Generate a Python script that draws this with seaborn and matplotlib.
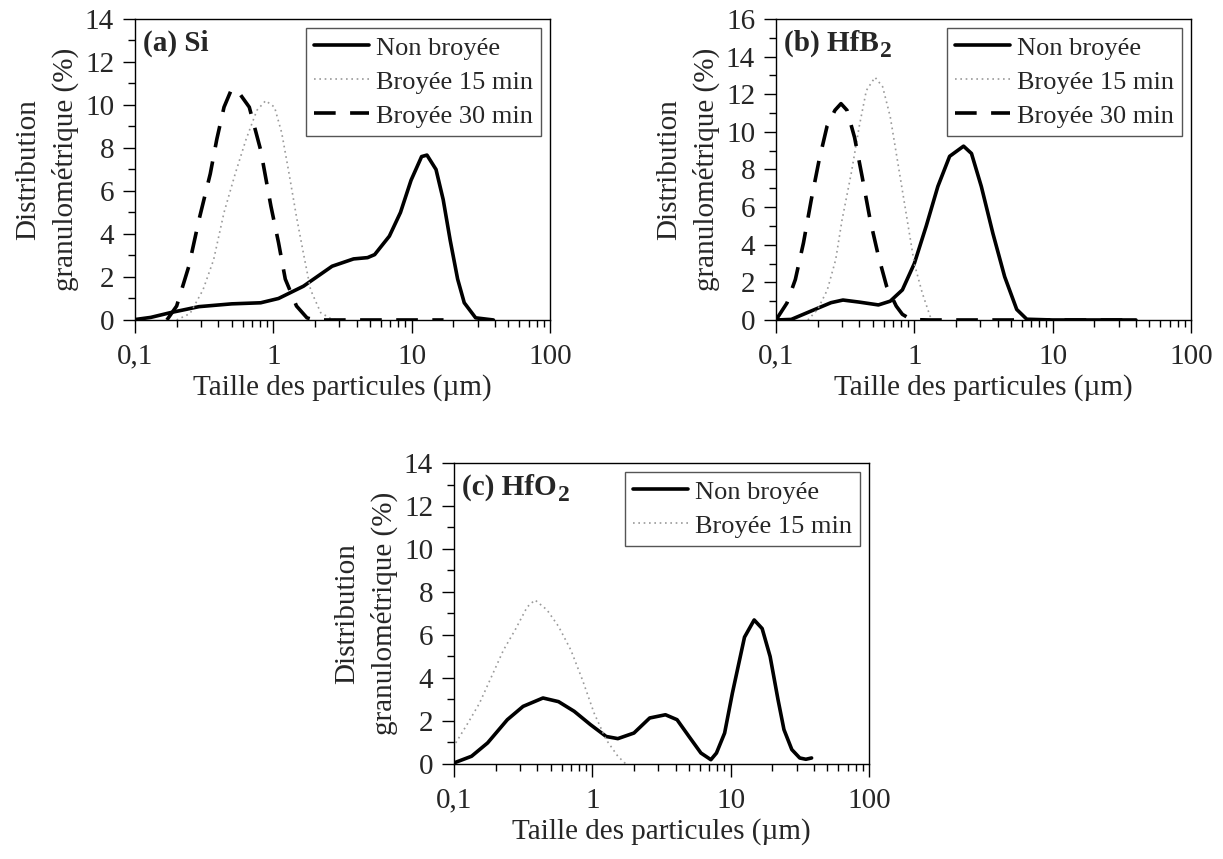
import numpy as np
import pandas as pd
import matplotlib
matplotlib.use("Agg")
import matplotlib.pyplot as plt
import matplotlib.ticker as mticker
import seaborn as sns

# (a) Si
si_x_raw = [0.1, 0.13, 0.18, 0.29, 0.5, 0.81, 1.09, 1.65, 2.66, 3.8, 4.8, 5.4, 6.9, 8.3,
            9.9, 11.8, 12.9, 15, 16.9, 19, 21.5, 24, 29, 39]
si_y_raw = [0.02, 0.12, 0.34, 0.62, 0.75, 0.8, 1.0, 1.57, 2.5, 2.84, 2.9, 3.04, 3.9, 5.0,
            6.5, 7.6, 7.67, 7.0, 5.6, 3.7, 1.9, 0.8, 0.1, 0.0]
si_x_15 = [0.2, 0.25, 0.31, 0.37, 0.44, 0.53, 0.635, 0.76, 0.88, 1.02, 1.15, 1.3, 1.47,
           1.65, 1.86, 2.2, 2.66, 3.0]
si_y_15 = [0.0, 0.3, 1.4, 2.8, 5.0, 6.8, 8.4, 9.75, 10.2, 9.9, 8.7, 6.8, 4.8, 3.1, 1.4,
           0.34, 0.03, 0.0]
si_x_30 = [0.17, 0.2, 0.245, 0.29, 0.35, 0.39, 0.44, 0.5, 0.56, 0.67, 0.81, 0.96, 1.09,
           1.22, 1.47, 1.75, 1.97, 3, 5, 8, 12, 17]
si_y_30 = [0.0, 0.65, 2.5, 4.66, 6.8, 8.4, 9.9, 10.75, 10.6, 9.9, 7.9, 5.3, 3.6, 1.9,
           0.65, 0.1, 0.0, 0, 0, 0, 0, 0]

# (b) HfB2
hfb_x_raw = [0.1, 0.129, 0.18, 0.25, 0.305, 0.4, 0.55, 0.67, 0.82, 1.0, 1.22, 1.48, 1.8,
             2.27, 2.59, 3.05, 3.7, 4.5, 5.5, 6.5, 10, 20, 40]
hfb_y_raw = [0.0, 0.03, 0.48, 0.92, 1.06, 0.95, 0.8, 1.0, 1.6, 3.0, 5.0, 7.1, 8.7, 9.24,
             8.85, 7.1, 4.6, 2.3, 0.56, 0.04, 0, 0, 0]
hfb_x_15 = [0.17, 0.2, 0.235, 0.27, 0.3, 0.35, 0.4, 0.45, 0.52, 0.59, 0.67, 0.77, 0.88,
            1.0, 1.14, 1.3, 1.37]
hfb_y_15 = [0.0, 0.56, 1.6, 3.2, 5.3, 7.8, 10.3, 12.2, 12.9, 12.4, 10.8, 8.1, 5.5, 3.0,
            1.45, 0.2, 0.0]
hfb_x_30 = [0.1, 0.12, 0.138, 0.158, 0.18, 0.205, 0.234, 0.267, 0.295, 0.326, 0.37, 0.42,
            0.48, 0.55, 0.63, 0.74, 0.82, 0.95, 1.3, 3, 10, 40]
hfb_y_30 = [0.0, 0.9, 2.15, 4.1, 6.4, 8.5, 10.3, 11.15, 11.5, 11.15, 9.7, 7.6, 5.3, 3.4,
            1.8, 0.74, 0.3, 0.02, 0, 0, 0, 0]

# (c) HfO2
hfo_x_raw = [0.1, 0.134, 0.175, 0.243, 0.316, 0.44, 0.57, 0.74, 0.97, 1.26, 1.53, 2.0,
             2.6, 3.38, 4.1, 5.0, 6.1, 7.2, 7.9, 9.05, 10.3, 12.6, 14.8, 16.9, 19.3, 22,
             24.3, 27.7, 31.6, 35, 38.5]
hfo_y_raw = [0.05, 0.36, 0.98, 2.06, 2.68, 3.07, 2.9, 2.45, 1.83, 1.28, 1.18, 1.44, 2.14,
             2.29, 2.06, 1.28, 0.51, 0.2, 0.51, 1.44, 3.3, 5.9, 6.7, 6.3, 5.0, 3.0, 1.6,
             0.67, 0.28, 0.22, 0.28]
hfo_x_15 = [0.103, 0.126, 0.153, 0.187, 0.228, 0.277, 0.338, 0.385, 0.47, 0.57, 0.7,
            0.85, 1.03, 1.26, 1.53, 1.75]
hfo_y_15 = [0.98, 1.9, 2.83, 4.07, 5.3, 6.24, 7.3, 7.63, 7.17, 6.4, 5.3, 3.9, 2.37,
            1.13, 0.36, 0.0]

xticks = [0.1, 1, 10, 100]
xtick_labels = ['0,1', '1', '10', '100']

sns.set_style("ticks")
plt.rcParams['font.family'] = ['Liberation Serif', 'DejaVu Serif']

styles = {
    'Non broyée': dict(color='black', lw=2.6, linestyle='-'),
    'Broyée 15 min': dict(color='#9a9a9a', lw=1.2, linestyle=(0, (1, 2.2))),
    'Broyée 30 min': dict(color='black', lw=2.6, linestyle=(0, (6, 4))),
}


def draw_panel(ax, series, title, sub, ymax):
    for name, (xs, ys) in series.items():
        df = pd.DataFrame({'x': xs, 'y': ys})
        sns.lineplot(data=df, x='x', y='y', ax=ax, label=name, errorbar=None,
                     **styles[name])
    ax.set_xscale('log')
    ax.set_xlim(0.1, 100)
    ax.set_ylim(0, ymax)
    ax.set_xticks(xticks)
    ax.set_xticklabels(xtick_labels)
    ax.xaxis.set_minor_locator(mticker.LogLocator(base=10, subs=np.arange(2, 10)))
    ax.xaxis.set_minor_formatter(mticker.NullFormatter())
    ax.yaxis.set_major_locator(mticker.MultipleLocator(2))
    ax.yaxis.set_minor_locator(mticker.MultipleLocator(1))
    ax.tick_params(which='major', length=9, width=1, labelsize=21, color='black')
    ax.tick_params(axis='x', which='major', pad=8)
    ax.tick_params(axis='y', which='major', pad=6)
    ax.tick_params(which='minor', length=5, width=1, color='black')
    for sp in ax.spines.values():
        sp.set_color('black')
        sp.set_linewidth(1)
    ax.set_xlabel('Taille des particules (µm)', fontsize=21, labelpad=3)
    ax.set_ylabel('Distribution\ngranulométrique (%)', fontsize=21,
                  linespacing=1.5, labelpad=4)
    t = ax.text(0.02, 0.965, title, transform=ax.transAxes, ha='left', va='top',
                fontsize=21, fontweight='bold')
    if sub:
        ax.annotate(sub, xy=(1, 0), xycoords=t, xytext=(0.5, -4),
                    textcoords='offset points', ha='left', va='bottom',
                    fontsize=17, fontweight='bold')
    leg = ax.legend(loc='upper right', fontsize=19, frameon=True, fancybox=False,
                    edgecolor='#555555', framealpha=1, handlelength=2.1,
                    handletextpad=0.25, labelspacing=0.4, borderpad=0.3,
                    borderaxespad=0.35)
    leg.get_frame().set_linewidth(1)


fig = plt.figure(figsize=(12.23, 8.59), dpi=100)
ax_a = fig.add_axes([0.1104, 0.6275, 0.3393, 0.3504])
ax_b = fig.add_axes([0.6345, 0.6275, 0.3393, 0.3504])
ax_c = fig.add_axes([0.3712, 0.1106, 0.3393, 0.3504])

draw_panel(ax_a, {'Non broyée': (si_x_raw, si_y_raw),
                  'Broyée 15 min': (si_x_15, si_y_15),
                  'Broyée 30 min': (si_x_30, si_y_30)}, '(a) Si', '', 14)
draw_panel(ax_b, {'Non broyée': (hfb_x_raw, hfb_y_raw),
                  'Broyée 15 min': (hfb_x_15, hfb_y_15),
                  'Broyée 30 min': (hfb_x_30, hfb_y_30)}, '(b) HfB', '2', 16)
draw_panel(ax_c, {'Non broyée': (hfo_x_raw, hfo_y_raw),
                  'Broyée 15 min': (hfo_x_15, hfo_y_15)}, '(c) HfO', '2', 14)

fig.savefig('out.png', dpi=100)
